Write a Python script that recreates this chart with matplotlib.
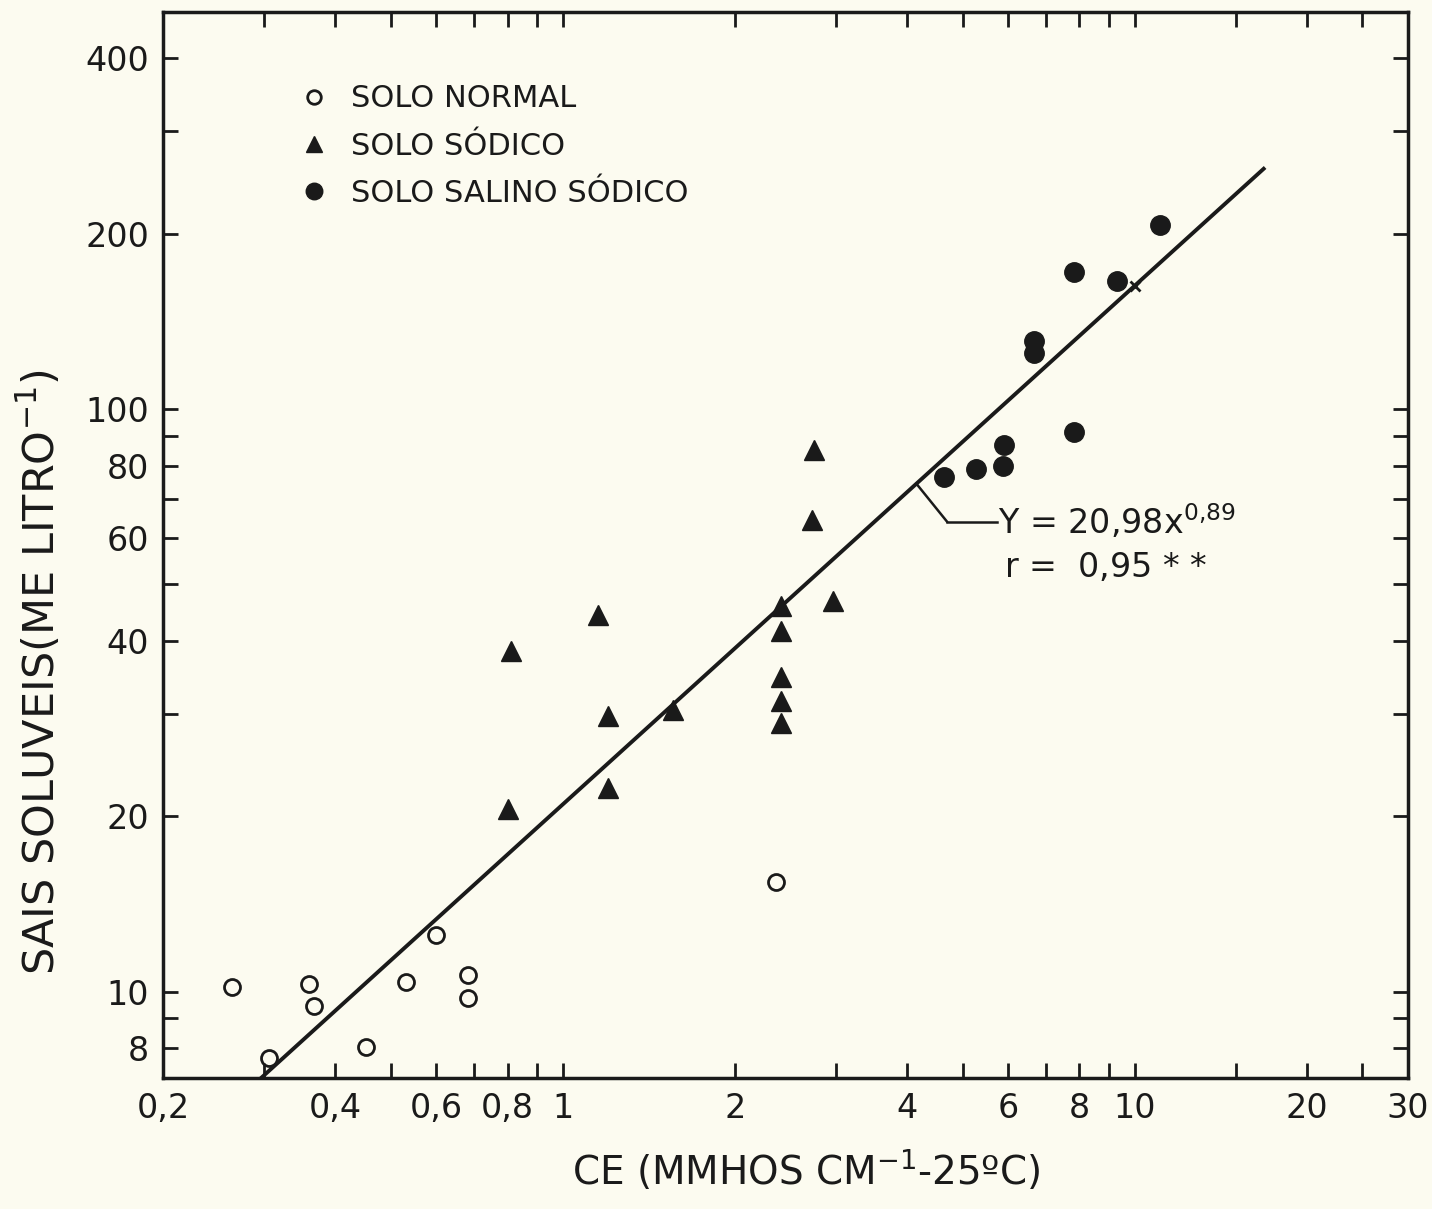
import numpy as np
import matplotlib
matplotlib.use('Agg')
import matplotlib.pyplot as plt
from matplotlib.ticker import FixedLocator, NullFormatter

# Solo normal (circulos abertos)
normal_ce = [0.264, 0.306, 0.360, 0.367, 0.453, 0.531, 0.599, 0.681, 0.681, 2.36]
normal_sais = [10.2, 7.7, 10.3, 9.45, 8.05, 10.4, 12.5, 10.7, 9.75, 15.4]

# Solo sodico (triangulos)
sodico_ce = [0.812, 0.802, 1.15, 1.20, 1.20, 1.56, 2.41, 2.41, 2.41, 2.41, 2.41, 2.75, 2.73, 2.97]
sodico_sais = [38.4, 20.6, 44.3, 29.7, 22.4, 30.5, 45.9, 41.6, 34.7, 31.5, 28.9, 85.1, 64.5, 46.9]

# Solo salino sodico (circulos cheios)
salino_ce = [4.63, 5.27, 5.89, 5.91, 6.67, 6.67, 7.83, 7.83, 9.30, 11.05]
salino_sais = [76.5, 78.9, 79.8, 86.7, 131, 125, 91.3, 172, 166, 207]

# Regressao Y = 20,98 x^0,89
coef_a = 20.98
coef_b = 0.89
linha_ce = [0.29, 16.8]
ponto_ref = 10.0

x_ticks = [0.2, 0.4, 0.6, 0.8, 1, 2, 4, 6, 8, 10, 20, 30]
x_labels = ['0,2', '0,4', '0,6', '0,8', '1', '2', '4', '6', '8', '10', '20', '30']
x_minor = [0.3, 0.5, 0.7, 0.9, 3, 5, 7, 9, 15, 25]
y_ticks = [8, 10, 20, 40, 60, 80, 100, 200, 400]
y_labels = ['8', '10', '20', '40', '60', '80', '100', '200', '400']
y_minor = [9, 30, 50, 70, 90, 300]

fundo = '#fcfbf0'
tinta = '#1a1a1a'

fig = plt.figure(figsize=(14.32, 12.09), dpi=100, facecolor=fundo)
ax = fig.add_axes([0.114, 0.108, 0.869, 0.882], facecolor=fundo)
ax.set_xscale('log')
ax.set_yscale('log')
ax.set_xlim(0.2, 30)
ax.set_ylim(7.1, 480)

# linha de regressao
lx = np.array(linha_ce)
ax.plot(lx, coef_a * lx ** coef_b, color=tinta, lw=2.8, zorder=2)
ax.plot([ponto_ref], [coef_a * ponto_ref ** coef_b], marker='x', color=tinta, ms=7, mew=2, zorder=3)

ax.plot(normal_ce, normal_sais, 'o', mfc='none', mec=tinta, mew=2, ms=11.5, ls='none', label='SOLO NORMAL', zorder=4)
ax.plot(sodico_ce, sodico_sais, '^', color=tinta, ms=14, ls='none', label='SOLO SÓDICO', zorder=4)
ax.plot(salino_ce, salino_sais, 'o', color=tinta, ms=14, ls='none', label='SOLO SALINO SÓDICO', zorder=4)

leg = ax.legend(loc='upper left', bbox_to_anchor=(0.087, 0.958), frameon=False, fontsize=22,
                handletextpad=0.7, labelspacing=0.6, markerscale=0.85, handlelength=1.0)
for t in leg.get_texts():
    t.set_color(tinta)

# anotacao da equacao
xa = 4.15
ya = coef_a * xa ** coef_b
ax.annotate('', xy=(xa, ya), xytext=(4.7, 64),
            arrowprops=dict(arrowstyle='-', color=tinta, lw=1.8, shrinkA=0, shrinkB=0))
ax.plot([4.7, 5.75], [64, 64], color=tinta, lw=1.8)
ax.text(5.77, 64, r'Y = 20,98x$^{0{,}89}$', fontsize=24, color=tinta, va='center', ha='left')
ax.text(5.9, 53.5, r'r =  0,95 $*$ $*$', fontsize=24, color=tinta, va='center', ha='left')

ax.xaxis.set_major_locator(FixedLocator(x_ticks))
ax.xaxis.set_minor_locator(FixedLocator(x_minor))
ax.set_xticklabels(x_labels)
ax.xaxis.set_minor_formatter(NullFormatter())
ax.yaxis.set_major_locator(FixedLocator(y_ticks))
ax.yaxis.set_minor_locator(FixedLocator(y_minor))
ax.set_yticklabels(y_labels)
ax.yaxis.set_minor_formatter(NullFormatter())

for w in ['major', 'minor']:
    ax.tick_params(which=w, direction='in', length=11, width=2, color=tinta,
                   top=True, right=True, labelsize=24, labelcolor=tinta, pad=10)
for s in ax.spines.values():
    s.set_linewidth(2.5)
    s.set_color(tinta)

fig.text(0.028, 0.444, r'SAIS SOLUVEIS(ME LITRO$^{-1}$)', rotation=90, fontsize=31,
         color=tinta, ha='center', va='center')
fig.text(0.563, 0.032, r'CE (MMHOS CM$^{-1}$-25ºC)', fontsize=28,
         color=tinta, ha='center', va='center')

fig.savefig('out.png', dpi=100, facecolor=fundo)
